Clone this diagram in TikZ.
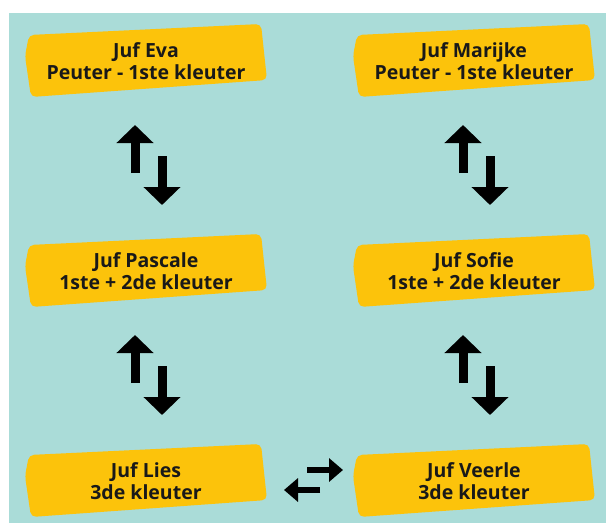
\documentclass[tikz,border=0pt]{standalone}
\usepackage{fontspec}
\setmainfont{Open Sans}
\usepackage{tikz}
\usetikzlibrary{arrows.meta}

\definecolor{board}{HTML}{AADCD8}
\definecolor{marker}{HTML}{FCC30B}

\pgfdeclarelayer{boardlayer}
\pgfdeclarelayer{paintlayer}
\pgfsetlayers{boardlayer,paintlayer,main}

% yellow brush stroke behind a teacher node
\newcommand{\brush}[1]{%
  \fill[marker, rounded corners=5pt]
    ([shift={(-117,-26)}]#1.center) -- ([shift={(115,-37)}]#1.center)
    -- ([shift={(121,19)}]#1.center) -- ([shift={(-115,36)}]#1.center)
    -- ([shift={(-121,-5)}]#1.center) -- cycle;}

\begin{document}
\begin{tikzpicture}[x=1pt, y=-1pt, node distance=210pt]

		% Define styles
		\tikzstyle{teacher} = [
		text centered, align=center, text=black!90,
		font=\bfseries\fontsize{19.5}{22}\selectfont]
		\tikzstyle{bigarrow} = [line width=9pt,
		-{Triangle[width=36pt,length=18pt]}]
		\tikzstyle{smallarrow} = [line width=6.5pt,
		-{Triangle[width=23pt,length=14pt]}]

		\useasboundingbox (0,0) rectangle (606,523);
		\begin{pgfonlayer}{boardlayer}
			\fill[board] (9,13) rectangle (606,523);
		\end{pgfonlayer}

		% Nodes
		\node (eva) [teacher] at (146,61) {Juf Eva\\ Peuter - 1ste kleuter};

		\node (marijke) [teacher, right of=eva, xshift=118pt] {Juf Marijke\\ Peuter - 1ste kleuter};

		\node (pascale) [teacher, below of=eva] {Juf Pascale\\ 1ste + 2de kleuter};

		\node (sofie) [teacher, below of=marijke] {Juf Sofie\\ 1ste + 2de kleuter};

		\node (lies) [teacher, below of=pascale] {Juf Lies\\ 3de kleuter};

		\node (veerle) [teacher, below of=sofie] {Juf Veerle\\ 3de kleuter};

		\begin{pgfonlayer}{paintlayer}
			\foreach \n in {eva, marijke, pascale, sofie, lies, veerle}
				{\brush{\n}}
		\end{pgfonlayer}

		% Arrows
		\foreach \n in {eva, marijke, pascale, sofie} {
			\draw [bigarrow] ([shift={(-11,112)}]\n.center) -- ([shift={(-11,64)}]\n.center);
			\draw [bigarrow] ([shift={(16,95)}]\n.center) -- ([shift={(16,144)}]\n.center);
		}
		\draw [smallarrow] ([shift={(161,-11)}]lies.center) -- ([shift={(-131,-11)}]veerle.center);
		\draw [smallarrow] ([shift={(-154,9)}]veerle.center) -- ([shift={(138,9)}]lies.center);
	\end{tikzpicture}
\end{document}
